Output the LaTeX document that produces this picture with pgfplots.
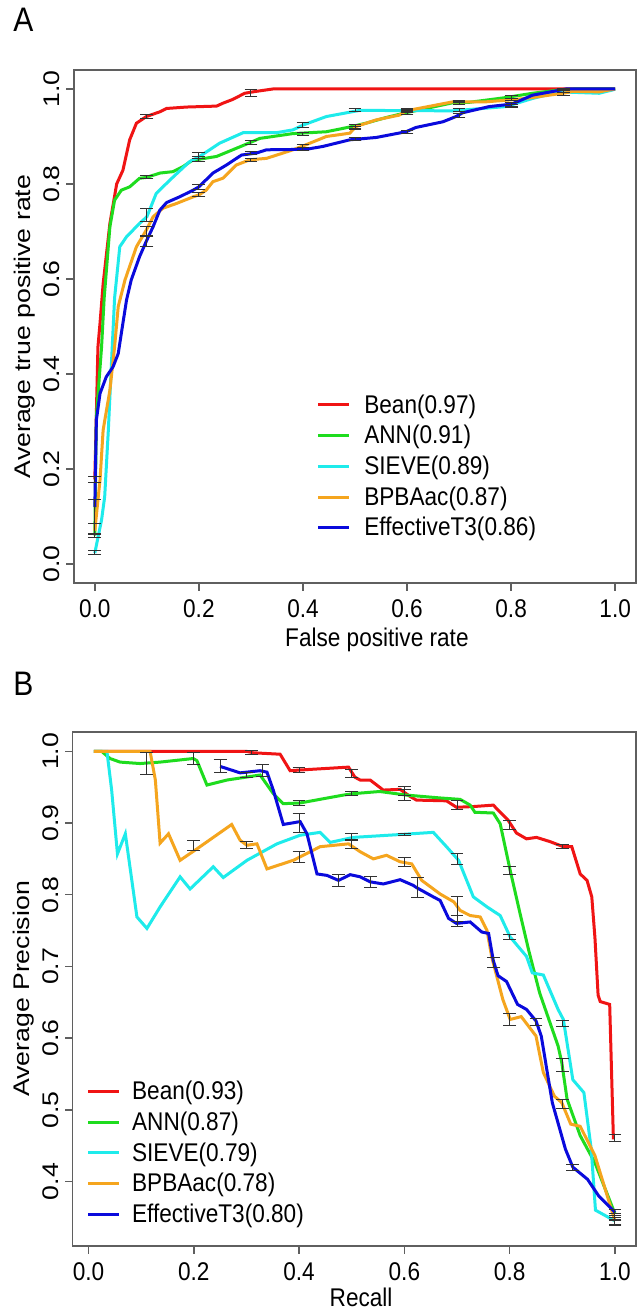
\documentclass[border=0pt]{standalone}
\usepackage{pgfplots}
\pgfplotsset{compat=1.18}
\usepackage{fontspec}
\setmainfont{Liberation Sans}
\newfontfamily\hfont{Liberation Sans}[FakeStretch=0.883]
\newfontfamily\vfont{Liberation Sans}[FakeStretch=1.18]
\newcommand\hsz{\hfont\fontsize{12.8pt}{14pt}\selectfont}
\newcommand\vsz{\vfont\fontsize{11.3pt}{13pt}\selectfont}
\definecolor{cRed}{RGB}{240,20,20}
\definecolor{cGreen}{RGB}{30,220,30}
\definecolor{cCyan}{RGB}{30,235,235}
\definecolor{cOrange}{RGB}{245,165,30}
\definecolor{cBlue}{RGB}{10,10,220}
\definecolor{ebcol}{RGB}{50,50,50}
\definecolor{axcol}{RGB}{95,95,95}
\pgfplotsset{
  rstyle/.style={
    scale only axis,
    axis line style={draw=axcol, line width=0.75pt},
    tick align=outside,
    xtick pos=left, ytick pos=left,
    major tick length=3.8pt,
    every tick/.style={draw=axcol, line width=0.75pt},
    xticklabel style={font=\hsz, inner sep=0pt, anchor=base, yshift=-13.5pt},
    yticklabel style={font=\vsz, inner sep=0pt, xshift=-3.5pt, rotate=90, anchor=base},
    xlabel style={font=\hsz, inner sep=0pt, anchor=base},
    ylabel style={font=\vsz, inner sep=0pt, anchor=base},
    legend cell align=left,
    legend image code/.code={\draw[##1, line width=1.5pt] (0pt,0pt) -- (15.3pt,0pt);},
    every axis plot/.append style={line width=1.5pt},
  },
  ebar/.style={forget plot, only marks, mark=*, mark size=0pt,
    mark options={draw=none, fill=none},
    error bars/.cd, y dir=both, y explicit,
    error bar style={ebcol, line width=0.5pt},
    error mark options={draw=ebcol, line width=0.5pt, mark size=3.2pt, rotate=90}},
}
\begin{document}
\begin{tikzpicture}
\useasboundingbox (0,0) rectangle (319pt,-654.5pt);
\fill[white] (0,0) rectangle (319pt,-654.5pt);
\node[anchor=base west, inner sep=0pt, font=\hfont\fontsize{17pt}{19pt}\selectfont] at (6.5pt,-16pt) {A};
\node[anchor=base west, inner sep=0pt, font=\hfont\fontsize{17pt}{19pt}\selectfont] at (6.5pt,-347.5pt) {B};
% ---------------- Panel A ----------------
\begin{axis}[rstyle,
  at={(37pt,-291.5pt)}, anchor=south west,
  width=281pt, height=256.5pt,
  xmin=-0.04, xmax=1.04, ymin=-0.04, ymax=1.04,
  xtick={0,0.2,0.4,0.6,0.8,1}, xticklabels={0.0,0.2,0.4,0.6,0.8,1.0},
  ytick={0,0.2,0.4,0.6,0.8,1}, yticklabels={0.0,0.2,0.4,0.6,0.8,1.0},
  xlabel={False positive rate},
  xlabel style={at={(axis description cs:0.539,-0.1228)}},
  ylabel={Average true positive rate},
  ylabel style={at={(axis description cs:-0.0783,0.5)}},
  legend style={draw=none, fill=none, at={(0.4319,0.3769)}, anchor=north west,
    inner sep=0pt, outer sep=0pt, row sep=0pt, column sep=7pt,
    nodes={inner sep=0pt, outer sep=0pt, text height=11.7pt, text depth=3.65pt, font=\hsz}},
]
\addplot[cRed] coordinates {
(0,0.178) (0.003,0.317) (0.006,0.457) (0.01,0.507) (0.016,0.59) (0.029,0.717)
(0.042,0.80) (0.054,0.829) (0.067,0.893) (0.08,0.928) (0.099,0.942) (0.125,0.952)
(0.138,0.959) (0.176,0.962) (0.234,0.964) (0.246,0.97) (0.265,0.978) (0.288,0.991)
(0.31,0.995) (0.342,1.0) (1.0,1.0)};
\addlegendentry{Bean(0.97)}
\addplot[cGreen] coordinates {
(0,0.06) (0.003,0.31) (0.013,0.457) (0.018,0.56) (0.029,0.71) (0.038,0.766)
(0.051,0.787) (0.067,0.794) (0.086,0.812) (0.1,0.814) (0.125,0.823) (0.15,0.826)
(0.17,0.837) (0.189,0.851) (0.2,0.852) (0.234,0.858) (0.265,0.872) (0.298,0.887)
(0.317,0.896) (0.38,0.906) (0.445,0.91) (0.49,0.92) (0.521,0.928) (0.56,0.94)
(0.598,0.95) (0.688,0.971) (0.72,0.972) (0.79,0.982) (0.841,0.991) (0.893,0.998)
(0.92,1.0) (1.0,1.0)};
\addlegendentry{ANN(0.91)}
\addplot[cCyan] coordinates {
(0,0.023) (0.013,0.093) (0.019,0.142) (0.026,0.282) (0.032,0.423) (0.038,0.56)
(0.048,0.668) (0.061,0.689) (0.086,0.717) (0.1,0.731) (0.118,0.78) (0.144,0.808)
(0.182,0.847) (0.2,0.857) (0.24,0.886) (0.285,0.908) (0.349,0.908) (0.381,0.914)
(0.4,0.924) (0.445,0.942) (0.509,0.955) (0.688,0.954) (0.79,0.963) (0.841,0.98)
(0.893,0.994) (0.969,0.991) (0.995,0.998) (1.0,1.0)};
\addlegendentry{SIEVE(0.89)}
\addplot[cOrange] coordinates {
(0,0.07) (0.01,0.177) (0.016,0.282) (0.029,0.366) (0.038,0.457) (0.045,0.542)
(0.058,0.598) (0.08,0.668) (0.099,0.703) (0.112,0.731) (0.131,0.749) (0.157,0.759)
(0.189,0.773) (0.2,0.777) (0.214,0.787) (0.227,0.805) (0.246,0.812) (0.272,0.84)
(0.298,0.851) (0.33,0.854) (0.381,0.872) (0.4,0.88) (0.445,0.9) (0.49,0.907)
(0.502,0.921) (0.541,0.935) (0.585,0.945) (0.598,0.954) (0.688,0.973) (0.752,0.973)
(0.809,0.978) (0.841,0.982) (0.905,0.992) (0.918,0.995) (0.969,0.994) (1.0,1.0)};
\addlegendentry{BPBAac(0.87)}
\addplot[cBlue] coordinates {
(0,0.12) (0.003,0.303) (0.01,0.359) (0.022,0.394) (0.035,0.415) (0.045,0.443)
(0.054,0.507) (0.061,0.556) (0.07,0.598) (0.086,0.647) (0.1,0.682) (0.112,0.71)
(0.125,0.745) (0.138,0.761) (0.163,0.773) (0.189,0.787) (0.2,0.794) (0.227,0.823)
(0.253,0.84) (0.282,0.861) (0.31,0.865) (0.33,0.872) (0.406,0.873) (0.438,0.879)
(0.49,0.893) (0.541,0.898) (0.598,0.91) (0.617,0.919) (0.669,0.931) (0.694,0.942)
(0.707,0.95) (0.758,0.963) (0.8,0.968) (0.816,0.975) (0.841,0.987) (0.886,0.996)
(0.905,1.0) (1.0,1.0)};
\addlegendentry{EffectiveT3(0.86)}
% error bars
\addplot[ebar] table[x index=0, y index=1, y error index=2] {
0 0.178 0.006
0.1 0.942 0.004
0.3 0.992 0.007
};
\addplot[ebar] table[x index=0, y index=1, y error index=2] {
0 0.06 0.005
0.1 0.814 0.003
0.2 0.852 0.005
0.3 0.887 0.004
0.4 0.906 0.003
0.5 0.921 0.004
0.6 0.95 0.004
0.7 0.971 0.003
0.8 0.983 0.003
0.9 0.998 0.002
};
\addplot[ebar] table[x index=0, y index=1, y error index=2] {
0 0.024 0.004
0.1 0.735 0.014
0.2 0.86 0.006
0.4 0.924 0.006
0.5 0.955 0.003
0.6 0.955 0.003
0.7 0.955 0.003
0.8 0.964 0.003
0.9 0.994 0.002
};
\addplot[ebar] table[x index=0, y index=1, y error index=2] {
0 0.074 0.012
0.1 0.70 0.01
0.2 0.778 0.005
0.3 0.851 0.003
0.4 0.88 0.004
0.5 0.918 0.004
0.6 0.954 0.003
0.7 0.973 0.002
0.8 0.977 0.002
0.9 0.99 0.003
};
\addplot[ebar] table[x index=0, y index=1, y error index=2] {
0 0.11 0.025
0.1 0.68 0.012
0.2 0.794 0.005
0.3 0.865 0.003
0.4 0.873 0.003
0.5 0.895 0.003
0.6 0.91 0.003
0.7 0.945 0.004
0.8 0.968 0.004
0.9 1.0 0.002
};
\end{axis}
% ---------------- Panel B ----------------
\begin{axis}[rstyle,
  at={(36.35pt,-623pt)}, anchor=south west,
  width=281.65pt, height=257pt,
  xmin=-0.03, xmax=1.04, ymin=0.31, ymax=1.027,
  xtick={0,0.2,0.4,0.6,0.8,1}, xticklabels={0.0,0.2,0.4,0.6,0.8,1.0},
  ytick={0.4,0.5,0.6,0.7,0.8,0.9,1.0}, yticklabels={0.4,0.5,0.6,0.7,0.8,0.9,1.0},
  xlabel={Recall},
  xlabel style={at={(axis description cs:0.512,-0.1167)}},
  ylabel={Average Precision},
  ylabel style={at={(axis description cs:-0.0758,0.5)}},
  legend style={draw=none, fill=none, at={(0.0245,0.3303)}, anchor=north west,
    inner sep=0pt, outer sep=0pt, row sep=0pt, column sep=6pt,
    nodes={inner sep=0pt, outer sep=0pt, text height=11.7pt, text depth=3.65pt, font=\hsz}},
]
\addplot[cRed] coordinates {
(0.01,1.0) (0.30,1.0) (0.313,0.998) (0.364,0.996) (0.383,0.973) (0.402,0.974)
(0.494,0.978) (0.506,0.964) (0.516,0.96) (0.535,0.96) (0.56,0.946) (0.592,0.947)
(0.611,0.937) (0.623,0.932) (0.68,0.931) (0.699,0.922) (0.731,0.923) (0.769,0.925)
(0.782,0.915) (0.797,0.904) (0.813,0.886) (0.832,0.878) (0.851,0.88) (0.877,0.874)
(0.902,0.867) (0.918,0.867) (0.934,0.829) (0.947,0.82) (0.956,0.797) (0.962,0.74)
(0.968,0.66) (0.972,0.651) (0.99,0.647) (0.997,0.461) (1.0,0.461)};
\addlegendentry{Bean(0.93)}
\addplot[cGreen] coordinates {
(0.01,1.0) (0.025,1.0) (0.041,0.99) (0.06,0.985) (0.098,0.983) (0.136,0.985)
(0.199,0.99) (0.206,0.987) (0.225,0.953) (0.263,0.96) (0.326,0.967) (0.351,0.941)
(0.37,0.927) (0.402,0.928) (0.484,0.939) (0.503,0.941) (0.553,0.944) (0.604,0.939)
(0.668,0.935) (0.706,0.933) (0.725,0.925) (0.734,0.915) (0.769,0.914) (0.782,0.899)
(0.801,0.834) (0.82,0.773) (0.836,0.723) (0.857,0.663) (0.892,0.589) (0.899,0.566)
(0.909,0.515) (0.934,0.464) (0.962,0.426) (1.0,0.355)};
\addlegendentry{ANN(0.87)}
\addplot[cCyan] coordinates {
(0.01,1.0) (0.035,1.0) (0.044,0.946) (0.055,0.857) (0.07,0.885) (0.092,0.769)
(0.111,0.753) (0.136,0.783) (0.174,0.825) (0.193,0.808) (0.237,0.839) (0.256,0.824)
(0.301,0.848) (0.358,0.871) (0.402,0.883) (0.44,0.887) (0.459,0.873) (0.503,0.88)
(0.592,0.884) (0.655,0.887) (0.68,0.867) (0.703,0.848) (0.731,0.797) (0.757,0.783)
(0.782,0.771) (0.801,0.741) (0.832,0.714) (0.843,0.691) (0.864,0.688) (0.892,0.64)
(0.902,0.626) (0.92,0.542) (0.941,0.524) (0.955,0.445) (0.963,0.36) (1.0,0.345)};
\addlegendentry{SIEVE(0.79)}
\addplot[cOrange] coordinates {
(0.01,1.0) (0.117,1.0) (0.127,0.96) (0.136,0.872) (0.152,0.885) (0.174,0.848)
(0.206,0.864) (0.272,0.898) (0.288,0.876) (0.301,0.869) (0.32,0.871) (0.339,0.836)
(0.389,0.848) (0.44,0.867) (0.494,0.871) (0.516,0.86) (0.541,0.85) (0.566,0.855)
(0.592,0.846) (0.614,0.843) (0.633,0.82) (0.668,0.801) (0.694,0.79) (0.706,0.778)
(0.725,0.771) (0.744,0.769) (0.757,0.75) (0.766,0.713) (0.787,0.654) (0.801,0.626)
(0.822,0.63) (0.85,0.603) (0.864,0.552) (0.885,0.519) (0.899,0.51) (0.916,0.48)
(0.934,0.477) (0.962,0.436) (1.0,0.345)};
\addlegendentry{BPBAac(0.78)}
\addplot[cBlue] coordinates {
(0.25,0.979) (0.288,0.97) (0.326,0.973) (0.339,0.971) (0.351,0.946) (0.37,0.898)
(0.402,0.902) (0.415,0.885) (0.434,0.829) (0.453,0.827) (0.475,0.82) (0.497,0.828)
(0.516,0.825) (0.535,0.818) (0.56,0.815) (0.592,0.821) (0.617,0.813) (0.623,0.81)
(0.655,0.797) (0.668,0.792) (0.684,0.767) (0.699,0.76) (0.725,0.762) (0.747,0.748)
(0.76,0.746) (0.769,0.708) (0.778,0.687) (0.794,0.679) (0.815,0.647) (0.832,0.64)
(0.85,0.624) (0.86,0.603) (0.881,0.51) (0.906,0.445) (0.92,0.42) (0.948,0.403)
(0.969,0.38) (1.0,0.357)};
\addlegendentry{EffectiveT3(0.80)}
% error bars
\addplot[ebar] table[x index=0, y index=1, y error index=2] {
0.31 0.998 0.003
0.4 0.974 0.004
0.5 0.969 0.005
0.6 0.945 0.006
0.7 0.925 0.006
0.8 0.897 0.006
0.9 0.867 0.003
1.0 0.461 0.005
};
\addplot[ebar] table[x index=0, y index=1, y error index=2] {
0.11 0.983 0.015
0.2 0.99 0.008
0.3 0.967 0.004
0.4 0.928 0.004
0.5 0.941 0.003
0.6 0.939 0.008
0.8 0.834 0.006
0.9 0.563 0.009
1.0 0.35 0.005
};
\addplot[ebar] table[x index=0, y index=1, y error index=2] {
0.5 0.88 0.005
0.6 0.884 0.002
0.7 0.85 0.008
0.8 0.741 0.003
0.9 0.62 0.004
1.0 0.345 0.005
};
\addplot[ebar] table[x index=0, y index=1, y error index=2] {
0.2 0.869 0.007
0.3 0.869 0.005
0.4 0.853 0.008
0.5 0.871 0.006
0.6 0.846 0.006
0.7 0.78 0.017
0.8 0.626 0.008
0.9 0.508 0.006
1.0 0.343 0.004
};
\addplot[ebar] table[x index=0, y index=1, y error index=2] {
0.25 0.979 0.009
0.33 0.973 0.008
0.4 0.9 0.013
0.475 0.82 0.008
0.535 0.818 0.008
0.625 0.81 0.014
0.7 0.763 0.008
0.77 0.706 0.007
0.85 0.622 0.005
0.92 0.42 0.004
1.0 0.357 0.004
};
\end{axis}
\end{tikzpicture}
\end{document}
